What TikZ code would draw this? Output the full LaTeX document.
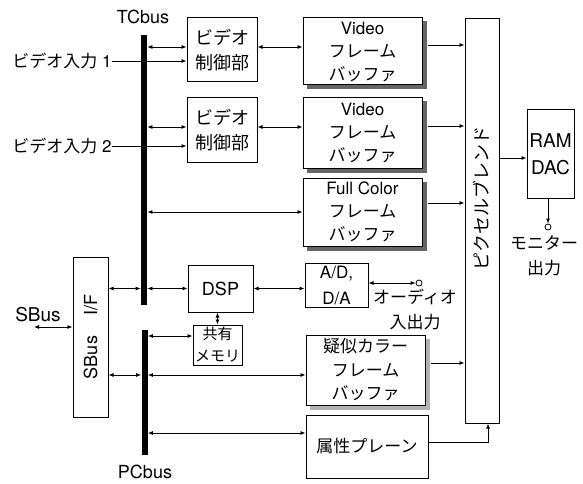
\documentclass[tikz,border=0pt]{standalone}
\usepackage{fontspec}
\setmainfont{TeX Gyre Heros}
\newfontfamily\jpfont{Noto Sans CJK JP}
\usetikzlibrary{arrows.meta,backgrounds}

\begin{document}
\begin{tikzpicture}[x=1pt,y=-1pt, line width=0.8pt,
  >={Latex[length=5pt,width=4pt]},
  blk/.style={draw, line width=1pt, fill=white, inner sep=0pt, align=center,
    font=\fontsize{17}{23}\selectfont},
  bus/.style={fill=black, inner sep=0pt, minimum width=6pt},
  lbl/.style={inner sep=0pt, align=center, font=\fontsize{17}{25}\selectfont},
  term/.style={circle, draw, fill=white, inner sep=0pt, minimum size=6pt},
  shade/.style={fill=black!60, draw=none},
  lshade/.style={fill=black!30, draw=none}]
\useasboundingbox (0,0) rectangle (583,484);

% buses
\node[bus, minimum height=270pt] (tcbus) at (144,170) {};
\node[bus, minimum height=125pt] (pcbus) at (144.5,392.5) {};
\node[lbl, font=\fontsize{18}{23}\selectfont] (tclbl) at (143,17) {TCbus};
\node[lbl, font=\fontsize{18}{23}\selectfont] (pclbl) at (145,472) {PCbus};

% video input side
\node[lbl] (in1) at (62,61) {{\jpfont ビデオ入力} 1};
\node[lbl] (in2) at (62,146) {{\jpfont ビデオ入力} 2};
\node[blk, minimum width=70pt, minimum height=64pt, font=\jpfont\fontsize{18}{25}\selectfont] (vc1) at (222,50) {ビデオ\\制御部};
\node[blk, minimum width=70pt, minimum height=64pt, font=\jpfont\fontsize{18}{25}\selectfont] (vc2) at (222,130) {ビデオ\\制御部};

% frame buffers
\node[blk, minimum width=119pt, minimum height=67pt] (vb1) at (362.5,51.5) {Video\\{\jpfont フレーム}\\{\jpfont バッファ}};
\node[blk, minimum width=119pt, minimum height=70pt] (vb2) at (362.5,133) {Video\\{\jpfont フレーム}\\{\jpfont バッファ}};
\node[blk, minimum width=119pt, minimum height=68pt] (fb) at (362.5,212) {Full Color\\{\jpfont フレーム}\\{\jpfont バッファ}};
\node[blk, minimum width=119pt, minimum height=70pt, font=\jpfont\fontsize{17}{23.5}\selectfont] (pseudo) at (365.5,370) {疑似カラー\\フレーム\\バッファ};
\node[blk, minimum width=122pt, minimum height=63pt, font=\jpfont\fontsize{17}{23}\selectfont] (attr) at (367,446.5) {属性プレーン};

% shadows behind the buffers
\begin{scope}[on background layer]
\foreach \b in {vb1,vb2,fb}
  \fill[shade] ([xshift=4pt,yshift=-4pt]\b.south west) rectangle ([xshift=4pt,yshift=-4pt]\b.north east);
\fill[lshade] ([xshift=4pt,yshift=-4pt]pseudo.south west) rectangle ([xshift=4pt,yshift=-4pt]pseudo.north east);
\end{scope}

% blend and output
\node[blk, minimum width=34pt, minimum height=404pt] (blend) at (482,221) {};
\node[lbl, rotate=90, font=\jpfont\fontsize{18}{23}\selectfont] (blendlbl) at (481,198) {ピクセルブレンド};
\node[blk, minimum width=47pt, minimum height=89pt, font=\fontsize{19}{27}\selectfont] (ramdac) at (550.5,154) {RAM\\DAC};
\node[term] (mon) at (548,227) {};
\node[lbl, font=\jpfont\fontsize{17}{25}\selectfont] (monlbl) at (544,256) {モニター\\出力};

% DSP part
\node[blk, minimum width=65pt, minimum height=47pt, font=\fontsize{18}{23}\selectfont] (dsp) at (220.5,288.5) {DSP};
\node[blk, minimum width=49pt, minimum height=40pt, font=\jpfont\fontsize{15}{22}\selectfont] (mem) at (217.5,345) {共有\\メモリ};
\node[blk, minimum width=63pt, minimum height=44pt, font=\fontsize{17}{26}\selectfont] (ad) at (336.5,285) {A/D,\\D/A};
\node[term] (aud) at (419,283) {};
\node[lbl, font=\jpfont\fontsize{17}{25}\selectfont] (audlbl) at (415,309) {オーディオ\\入出力};

% SBus interface
\node[blk, minimum width=35pt, minimum height=160pt] (sbif) at (90.5,337) {};
\node[lbl, rotate=90, font=\fontsize{18}{23}\selectfont] (sbiftxt) at (90.5,337) {SBus\hspace{20pt}I/F};
\node[lbl, font=\fontsize{19}{23}\selectfont] (sblbl) at (38,315) {SBus};
\coordinate (sbext) at (34,327);

% TC bus connections
\draw[<->] ([yshift=3pt]vc1.west -| tcbus.east) -- ([yshift=3pt]vc1.west);
\draw[->] (in1.east) -- (in1.east -| vc1.west);
\draw[<->] ([yshift=3pt]vc1.east) -- ([yshift=3pt]vc1.east -| vb1.west);
\draw[<->] ([yshift=3pt]vc2.west -| tcbus.east) -- ([yshift=3pt]vc2.west);
\draw[->] (in2.east) -- (in2.east -| vc2.west);
\draw[<->] ([yshift=3pt]vc2.east) -- ([yshift=3pt]vc2.east -| vb2.west);
\draw[<->] (tcbus.east |- fb.west) -- (fb.west);
\draw[<->] (tcbus.east |- dsp.west) -- (dsp.west);
\draw[<->] (dsp.east) -- (dsp.east -| ad.west);
\draw[<->] (mem.north |- dsp.south) -- (mem.north);
\draw[<->] (ad.east |- aud.west) -- (aud.west);

% PC bus connections
\draw[<->] ([yshift=9pt]mem.west -| pcbus.east) -- ([yshift=9pt]mem.west);
\draw[<->] ([yshift=-5pt]pseudo.west -| pcbus.east) -- ([yshift=-5pt]pseudo.west);
\draw[<->] ([yshift=13.5pt]attr.west -| pcbus.east) -- ([yshift=13.5pt]attr.west);

% SBus I/F
\draw[<->] (sbext) -- (sbext -| sbif.west);
\draw[<->] (sbif.east |- dsp.west) -- (tcbus.west |- dsp.west);
\draw[<->] ([yshift=-5pt]pseudo.west -| sbif.east) -- ([yshift=-5pt]pseudo.west -| pcbus.west);

% into pixel blend
\draw[->] ([xshift=5pt,yshift=6.5pt]vb1.east) -- ([yshift=6.5pt]vb1.east -| blend.west);
\draw[->] ([xshift=5pt,yshift=7pt]vb2.east) -- ([yshift=7pt]vb2.east -| blend.west);
\draw[->] ([xshift=5pt,yshift=9pt]fb.east) -- ([yshift=9pt]fb.east -| blend.west);
\draw[->] ([xshift=5pt,yshift=7pt]pseudo.east) -- ([yshift=7pt]pseudo.east -| blend.west);
\draw[->] ([yshift=4.5pt]attr.east) -| ([xshift=6pt]blend.south);
\draw[->] ([yshift=-4pt]ramdac.west -| blend.east) -- ([yshift=-4pt]ramdac.west);
\draw[->] (mon |- ramdac.south) -- (mon.north);
\end{tikzpicture}
\end{document}
